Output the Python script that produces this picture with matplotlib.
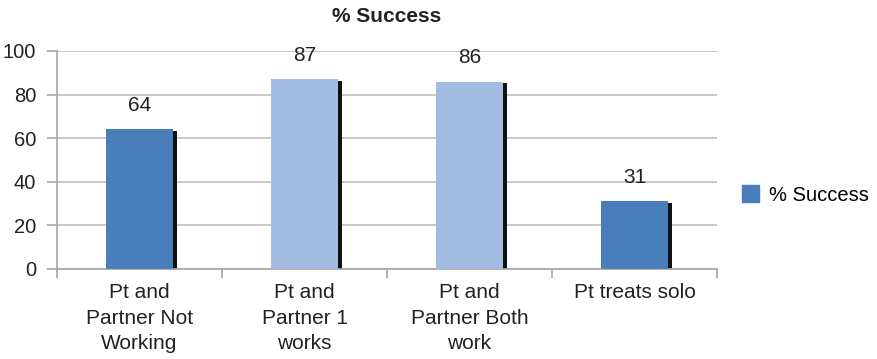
import numpy as np
import matplotlib
matplotlib.use('Agg')
import matplotlib.pyplot as plt
from matplotlib.patches import Patch

plt.rcParams['font.family'] = ['Liberation Sans', 'DejaVu Sans']

categories = ['Pt and\nPartner Not\nWorking', 'Pt and\nPartner 1\nworks',
              'Pt and\nPartner Both\nwork', 'Pt treats solo']
success = [64, 87, 86, 31]
bar_colors = ['#4A7EBB', '#A4BBE2', '#A4BBE2', '#4A7EBB']
yticks = [0, 20, 40, 60, 80, 100]

fig = plt.figure(figsize=(8.78, 3.59), dpi=100)
ax = fig.add_axes([57 / 878, 1 - 269 / 359, 660 / 878, 218 / 359])

x = np.arange(len(categories))
width = 0.41
# drop shadow behind each bar
ax.bar(x + 0.02, success, width, bottom=-0.8, color='#111111', zorder=2)
ax.bar(x, success, width, color=bar_colors, zorder=3)
for xi, v in zip(x, success):
    ax.text(xi, v + 11, str(v), ha='center', va='center', fontsize=15, color='#222222')

ax.set_xlim(-0.5, len(categories) - 0.5)
ax.set_ylim(0, 100)
ax.set_yticks(yticks)
ax.yaxis.grid(True, color='#BFBFBF', linewidth=1.2, zorder=0)
ax.set_axisbelow(True)
for s in ['top', 'right']:
    ax.spines[s].set_visible(False)
for s in ['left', 'bottom']:
    ax.spines[s].set_color('#A6A6A6')
    ax.spines[s].set_linewidth(1.2)

ax.set_xticks(x)
ax.set_xticklabels(categories, fontsize=15, color='#222222', linespacing=1.45)
ax.tick_params(axis='x', length=0, pad=10)
ax.set_xticks(np.arange(-0.5, len(categories)), minor=True)
ax.tick_params(axis='x', which='minor', length=6.5, color='#A6A6A6', width=1.2)
ax.tick_params(axis='y', length=7, color='#A6A6A6', width=1.2, labelsize=14.5,
               labelcolor='#222222', pad=8)

fig.text(387 / 878, 1 - 17 / 359, '% Success', ha='center', va='center',
         fontsize=15, fontweight='bold', color='#222222')

fig.legend(handles=[Patch(color='#4A7EBB', label='% Success')],
           loc='center left', bbox_to_anchor=(724 / 878, 1 - 195 / 359),
           frameon=False, fontsize=14.5, handlelength=0.85, handleheight=0.85,
           handletextpad=0.5)

fig.savefig('out.png', dpi=100)
